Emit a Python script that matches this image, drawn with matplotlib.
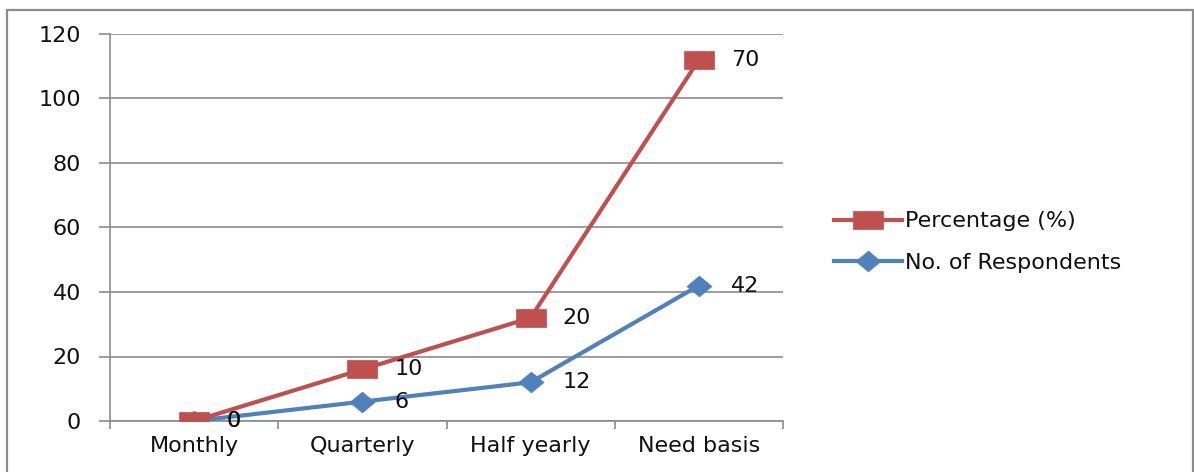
import matplotlib
matplotlib.use("Agg")
import matplotlib.pyplot as plt
from matplotlib.patches import Rectangle
from matplotlib.path import Path
from matplotlib.ticker import FixedLocator, NullFormatter
import numpy as np

# Frequency categories and series values
categories = ["Monthly", "Quarterly", "Half yearly", "Need basis"]
respondents = [0, 6, 12, 42]
percentage = [0, 10, 20, 70]
y_ticks = [0, 20, 40, 60, 80, 100, 120]

RED = "#C0504D"
BLUE = "#4F81BD"
GRID = "#8C8C8C"
TEXT = "#111111"
FS = 16

plt.rcParams["font.family"] = ["DejaVu Sans"]

# slightly wide marker shapes
wide_square = Path([(-1.0, -0.62), (1.0, -0.62), (1.0, 0.62), (-1.0, 0.62), (-1.0, -0.62)],
                   [Path.MOVETO, Path.LINETO, Path.LINETO, Path.LINETO, Path.CLOSEPOLY])
wide_diamond = Path([(-1.0, 0.0), (0.0, -0.83), (1.0, 0.0), (0.0, 0.83), (-1.0, 0.0)],
                    [Path.MOVETO, Path.LINETO, Path.LINETO, Path.LINETO, Path.CLOSEPOLY])

W, H = 1194, 472
fig = plt.figure(figsize=(W / 100, H / 100), dpi=100)
ax = fig.add_axes([110 / W, 1 - 421 / H, (783 - 110) / W, (421 - 34) / H])

x = np.arange(len(categories))
# stacked line chart: the percentage series sits on top of the respondents series
resp = np.array(respondents, dtype=float)
pct_stacked = resp + np.array(percentage, dtype=float)

l_resp, = ax.plot(x, resp, color=BLUE, lw=3, marker=wide_diamond, ms=18,
                  markeredgecolor=BLUE, markeredgewidth=0.5, zorder=3,
                  label="No. of Respondents")
l_pct, = ax.plot(x, pct_stacked, color=RED, lw=3, marker=wide_square, ms=21,
                 markeredgecolor=RED, markeredgewidth=0.5, zorder=4,
                 label="Percentage (%)")

for xi, yi, v in zip(x, resp, respondents):
    ax.annotate(f"{v}", (xi, yi), xytext=(23, 0), textcoords="offset points",
                ha="left", va="center", fontsize=FS, color=TEXT, zorder=5)
for xi, yi, v in zip(x, pct_stacked, percentage):
    ax.annotate(f"{v}", (xi, yi), xytext=(23, 0), textcoords="offset points",
                ha="left", va="center", fontsize=FS, color=TEXT, zorder=5)

ax.set_xlim(-0.5, len(categories) - 0.5)
ax.set_ylim(0, 120)
ax.set_yticks(y_ticks)
ax.yaxis.grid(True, color=GRID, lw=1.2)
ax.set_axisbelow(True)

ax.set_xticks(x)
ax.set_xticklabels(categories)
ax.xaxis.set_minor_locator(FixedLocator(np.arange(-0.5, len(categories), 1.0)))
ax.xaxis.set_minor_formatter(NullFormatter())
ax.tick_params(axis="x", which="major", length=0, pad=11, labelsize=FS, labelcolor=TEXT)
ax.tick_params(axis="x", which="minor", length=6, width=1.2, color=GRID, direction="out")
ax.tick_params(axis="y", length=8, width=1.2, color=GRID, direction="out", pad=13,
               labelsize=FS, labelcolor=TEXT)

for side in ("top", "right"):
    ax.spines[side].set_visible(False)
for side in ("left", "bottom"):
    ax.spines[side].set_color(GRID)
    ax.spines[side].set_linewidth(1.2)

leg = fig.legend(handles=[l_pct, l_resp], loc="center left",
                 bbox_to_anchor=(834 / W, 1 - 242 / H), frameon=False,
                 fontsize=FS, handlelength=3.05, handletextpad=0.15,
                 labelspacing=0.95, borderpad=0, borderaxespad=0)
for t in leg.get_texts():
    t.set_color(TEXT)

# chart area border
fig.patches.append(Rectangle((7 / W, -0.1), 1186 / W, 1.1 - 10 / H,
                             transform=fig.transFigure, fill=False,
                             edgecolor=GRID, lw=1.6, clip_on=False))

fig.savefig("out.png", dpi=100)
